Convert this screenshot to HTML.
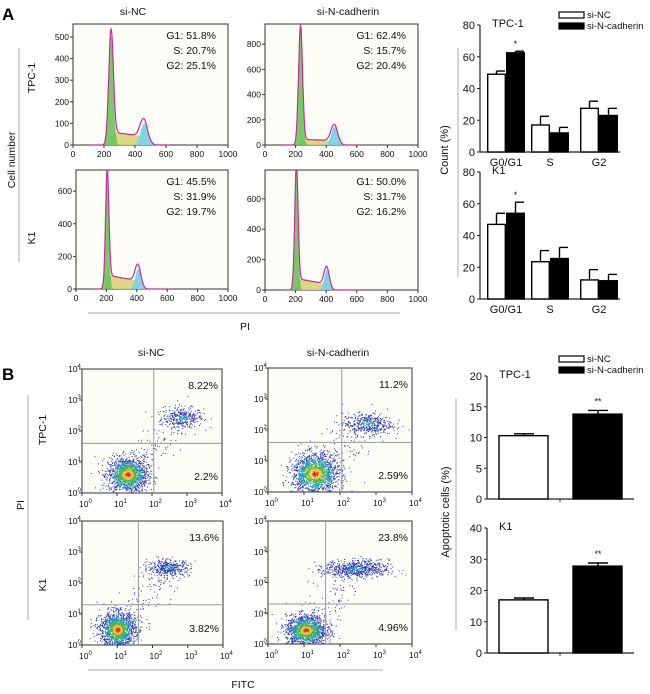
<!DOCTYPE html>
<html><head><meta charset="utf-8"><style>
body{margin:0;background:#fff}
svg{display:block;font-family:"Liberation Sans",sans-serif}
</style></head><body>
<svg id="fig" width="650" height="694" viewBox="0 0 650 694" xmlns="http://www.w3.org/2000/svg">
<text x="2" y="20" font-size="17" font-weight="bold">A</text>
<text x="2" y="380" font-size="17" font-weight="bold">B</text>
<g id="root"></g>
</svg>
<script>
// ---------- DATA ----------
// Histograms: [G1 mean, G1 height, G1 sd, G2 mean, G2 height, G2 sd, S start level, S end level]
const histParams = [
  [245, 505, 15, 460, 100, 24, 60, 40],
  [232, 930, 13, 455, 145, 22, 45, 35],
  [205, 700, 11, 410, 125, 19, 85, 50],
  [205, 790, 11, 405, 135, 17, 75, 40]
];
const histYMax = [560, 960, 730, 790];
const histYTicks = [[0,100,200,300,400,500],[0,200,400,600,800],[0,200,400,600],[0,200,400,600]];
const histXTicks = [0,200,400,600,800,1000];
const histLabels = [["G1: 51.8%","S: 20.7%","G2: 25.1%"],["G1: 62.4%","S: 15.7%","G2: 20.4%"],["G1: 45.5%","S: 31.9%","G2: 19.7%"],["G1: 50.0%","S: 31.7%","G2: 16.2%"]];

const cycleCategories = ["G0/G1","S","G2"];
const tpcNC = [49, 17, 27.5];
const tpcNCerr = [2, 5.5, 4.5];
const tpcKD = [62.5, 12, 23];
const tpcKDerr = [1, 3.5, 4.5];
const k1NC = [47, 23.5, 12];
const k1NCerr = [7, 7, 6.5];
const k1KD = [54, 25.5, 11.5];
const k1KDerr = [7, 7, 4];
const cycleTicks = [0,20,40,60,80];

const apoNC = [10.3, 17];
const apoNCerr = [0.3, 0.6];
const apoKD = [13.8, 27.8];
const apoKDerr = [0.6, 1];
const apoMax = [20, 40];
const apoTicks = [[0,5,10,15,20],[0,10,20,30,40]];

// scatter: [live fitc, live pi, sdx, sdy, nLive, late fitc, late pi, sdx, sdy, nLate]
const scatterParams = [
  [1.3, 0.6, 0.28, 0.28, 1500, 2.85, 2.45, 0.3, 0.16, 320],
  [1.3, 0.6, 0.32, 0.32, 1600, 2.75, 2.2, 0.35, 0.18, 420],
  [1.0, 0.5, 0.25, 0.28, 1500, 2.45, 2.5, 0.3, 0.13, 380],
  [1.05, 0.45, 0.28, 0.25, 1500, 2.45, 2.45, 0.45, 0.14, 650]
];
const scatterGates = [[2.05, 1.6],[2.05, 1.6],[1.6, 1.3],[1.6, 1.3]];
const scatterLabels = [["8.22%","2.2%"],["11.2%","2.59%"],["13.6%","3.82%"],["23.8%","4.96%"]];

// ---------- DRAW ----------
const NS = "http://www.w3.org/2000/svg";
const root = document.getElementById('root');
function mk(tag, attrs, parent, text){
  const e = document.createElementNS(NS, tag);
  for (const k in attrs) e.setAttribute(k, attrs[k]);
  if (text !== undefined) e.textContent = text;
  (parent || root).appendChild(e);
  return e;
}
function txt(x,y,s,size,anchor,parent,rot){
  const t = mk('text',{x:x,y:y,'font-size':size,'text-anchor':anchor||'middle',fill:'#111'},parent,s);
  if (rot) t.setAttribute('transform','rotate(-90 '+x+' '+y+')');
  return t;
}

let t;
t = txt(133,15,"si-NC",10.5);  
t = txt(348,15,"si-N-cadherin",10.5);  
t = txt(35,78,"TPC-1",10.5,'middle',null,true);  
t = txt(35,238,"K1",10.5,'middle',null,true);  
t = txt(15,160,"Cell number",10.5,'middle',null,true);  
mk('line',{x1:19,y1:48,x2:19,y2:262,stroke:'#aaa','stroke-width':1});
mk('line',{x1:88,y1:313,x2:400,y2:313,stroke:'#aaa','stroke-width':1});
t = txt(245,330,"PI",10.5);  

const histBoxes = [[73,228,24,145],[265,418,24,145],[76,228,170,289],[265,418,170,290]];
function gauss(x,m,s){return Math.exp(-0.5*((x-m)/s)**2);}
histParams.forEach((p,i)=>{
  const [x0,x1,y0,y1] = histBoxes[i];
  const g = mk('g',{});
  
  
  mk('rect',{x:x0,y:y0,width:x1-x0,height:y1-y0,fill:'#fdfcf7',stroke:'#333','stroke-width':1},g);
  const X = v=>x0+v/1000*(x1-x0);
  const Y = v=>y1-v/histYMax[i]*(y1-y0);
  const [m1,h1,s1,m2,h2,s2,sa,sb] = p;
  const sFun = x=>{ if(x<m1-s1||x>m2+s2) return 0; const f=(x-m1)/(m2-m1); return (sa+(sb-sa)*f)*Math.min(1,(x-m1+s1)/(2*s1))*Math.min(1,(m2+s2-x)/(2*s2)); };
  const xs=[]; for(let x=120;x<=620;x+=2) xs.push(x);
  const area=(f)=>{ let d='M'+X(xs[0])+','+Y(0); xs.forEach(x=>{d+=' L'+X(x).toFixed(1)+','+Y(Math.min(histYMax[i],f(x))).toFixed(1);}); d+=' L'+X(xs[xs.length-1])+','+Y(0)+'Z'; return d; };
  mk('path',{d:area(x=>sFun(x)),fill:'#d8d27a',opacity:0.9},g);
  mk('path',{d:area(x=>h1*gauss(x,m1,s1)),fill:'#6cc25a',opacity:0.9},g);
  mk('path',{d:area(x=>h2*gauss(x,m2,s2)),fill:'#7fd0e0',opacity:0.95},g);
  let d=''; xs.forEach((x,k)=>{const v=Math.min(histYMax[i],h1*gauss(x,m1,s1)+h2*gauss(x,m2,s2)+sFun(x)); d+=(k?' L':'M')+X(x).toFixed(1)+','+Y(v).toFixed(1);});
  mk('path',{d:d,fill:'none',stroke:'#c0309a','stroke-width':1.2},g);
  histYTicks[i].forEach(v=>{ mk('line',{x1:x0-3,x2:x0,y1:Y(v),y2:Y(v),stroke:'#333'},g); txt(x0-4,Y(v)+3,String(v),8.5,'end',g); });
  histXTicks.forEach(v=>{ mk('line',{x1:X(v),x2:X(v),y1:y1,y2:y1+3,stroke:'#333'},g); txt(X(v),y1+12,String(v),8.5,'middle',g); });
  histLabels[i].forEach((s,k)=>{ txt(x1-12,y0+15+k*15,s,10.5,'end',g); });
});

// ---------- cycle bar charts ----------
function barChart(name, ax, y0px, y1px, xEnd, maxv, ticks, cats, centers, nc, ncErr, kd, kdErr, title, bw, stars){
  const g = mk('g',{});
  
  
  const Y = v=>y1px - v/maxv*(y1px-y0px);
  mk('line',{x1:ax,y1:y0px,x2:ax,y2:y1px,stroke:'#222','stroke-width':1.2},g);
  mk('line',{x1:ax,y1:y1px,x2:xEnd,y2:y1px,stroke:'#222','stroke-width':1.2},g);
  ticks.forEach(v=>{ mk('line',{x1:ax-3,x2:ax,y1:Y(v),y2:Y(v),stroke:'#222'},g); txt(ax-5,Y(v)+4,String(v),11,'end',g); });
  centers.forEach((c,k)=>{
    [[nc,ncErr,'#fff',c-bw],[kd,kdErr,'#000',c]].forEach(([vals,errs,fill,bx])=>{
      const top=Y(vals[k]);
      const eb=Y(vals[k]+errs[k]);
      mk('line',{x1:bx+bw/2,x2:bx+bw/2,y1:top,y2:eb,stroke:'#000','stroke-width':1.4},g);
      mk('line',{x1:bx+bw/2,x2:bx+bw-1,y1:eb,y2:eb,stroke:'#000','stroke-width':1.4},g);
      const r=mk('rect',{x:bx+0.7,y:top,width:bw-1.4,height:y1px-top,fill:fill,stroke:'#000','stroke-width':1.4},g);
      
      
    });
    if (cats) txt(c, y1px+14, cats[k], 11,'middle',g);
    if (stars && stars[k]) txt(c+bw/2, Y(kd[k]+kdErr[k])-4, stars[k], 9,'middle',g);
  });
  txt(ax+12, y0px+2, title, 11, 'start', g);
  return g;
}
barChart('bar-chart-cycle-tpc1',480,25,152,620,80,cycleTicks,cycleCategories,[506,550,599],tpcNC,tpcNCerr,tpcKD,tpcKDerr,'TPC-1',19,['*','','']);
barChart('bar-chart-cycle-k1',480,172,299,620,80,cycleTicks,cycleCategories,[506,550,599],k1NC,k1NCerr,k1KD,k1KDerr,'K1',19,['*','','']);
t = txt(448,150,"Count (%)",11,'middle',null,true);  
mk('line',{x1:458,y1:48,x2:458,y2:277,stroke:'#aaa'});

// apoptosis axes (no bars via helper)
barChart('bar-chart-apoptosis-tpc1',487,376,499,634,apoMax[0],apoTicks[0],null,[],[],[],[],[],'TPC-1',0,null);
barChart('bar-chart-apoptosis-k1',487,528,653,634,apoMax[1],apoTicks[1],null,[],[],[],[],[],'K1',0,null);
[[376,499,0],[528,653,1]].forEach(([y0p,y1p,k])=>{
  const Y=v=>y1p-v/apoMax[k]*(y1p-y0p);
  [[apoNC,apoNCerr,'#fff',499],[apoKD,apoKDerr,'#000',573]].forEach(([vals,errs,fill,bx])=>{
    const top=Y(vals[k]), eb=Y(vals[k]+errs[k]);
    mk('line',{x1:bx+25,x2:bx+25,y1:top,y2:eb,stroke:'#000','stroke-width':1.4});
    mk('line',{x1:bx+15,x2:bx+35,y1:eb,y2:eb,stroke:'#000','stroke-width':1.4});
    const r=mk('rect',{x:bx,y:top,width:49,height:y1p-top,fill:fill,stroke:'#000','stroke-width':1.4});
    
    
  });
  txt(598,Y(apoKD[k]+apoKDerr[k])-6,'**',9);
  mk('line',{x1:560,x2:560,y1:y1p,y2:y1p+3,stroke:'#222'});
});
t = txt(449,512,"Apoptotic cells (%)",11,'middle',null,true);  
mk('line',{x1:456,y1:398,x2:456,y2:630,stroke:'#aaa'});

// legends
[[12],[356]].forEach(([ly],i)=>{
  const g=mk('g',{});
  
  
  mk('rect',{x:559,y:ly,width:25,height:6,fill:'#fff',stroke:'#000','stroke-width':1.2},g);
  mk('rect',{x:559,y:ly+11,width:25,height:6,fill:'#000',stroke:'#000','stroke-width':1.2},g);
  txt(587,ly+6,'si-NC',9.5,'start',g);
  txt(587,ly+17,'si-N-cadherin',9.5,'start',g);
});

// ---------- scatter ----------
t = txt(151,356,"si-NC",10.5);  
t = txt(338,356,"si-N-cadherin",10.5);  
t = txt(46,430,"TPC-1",10.5,'middle',null,true);  
t = txt(46,585,"K1",10.5,'middle',null,true);  
t = txt(24,505,"PI",10.5,'middle',null,true);  
mk('line',{x1:28,y1:395,x2:28,y2:620,stroke:'#aaa'});
mk('line',{x1:88,y1:670,x2:383,y2:670,stroke:'#aaa'});
t = txt(243,688,"FITC",10.5);  

const scBoxes=[[82,222,369,493],[268,412,368,492],[82,223,521,645],[268,412,521,644]];
let seed=12345; function rnd(){seed=(seed*1103515245+12345)%2147483648; return seed/2147483648;}
function nrm(){let u=rnd()||1e-6,v=rnd(); return Math.sqrt(-2*Math.log(u))*Math.cos(2*Math.PI*v);}
function dens(r){ if(r<0.25) return '#e03020'; if(r<0.55) return '#e8c030'; if(r<1.0) return '#50b050'; if(r<1.5) return '#2090b8'; return '#2838b0'; }
scatterParams.forEach((p,i)=>{
  const [x0,x1,y0,y1]=scBoxes[i];
  const g=mk('g',{});
  
  
  mk('rect',{x:x0,y:y0,width:x1-x0,height:y1-y0,fill:'#fdfcf7',stroke:'#333'},g);
  const X=v=>x0+v/4*(x1-x0), Y=v=>y1-v/4*(y1-y0);
  const [cx,cy,sx,sy,n,lx,ly,lsx,lsy,ln]=p;
  const pts=[];
  for(let k=0;k<ln;k++){const a=nrm(),b=nrm(); pts.push([lx+a*lsx,ly+b*lsy,Math.hypot(a,b)+1.0]);}
  for(let k=0;k<120;k++){const f=rnd(); pts.push([cx+(lx-cx)*f+nrm()*0.3,cy+(ly-cy)*f+nrm()*0.3,3]);}
  for(let k=0;k<n;k++){const a=nrm(),b=nrm(); pts.push([cx+a*sx,cy+b*sy,Math.hypot(a,b)]);}
  pts.sort((a,b)=>b[2]-a[2]);
  pts.forEach(q=>{ if(q[0]<0.02||q[0]>3.98||q[1]<0.02||q[1]>3.98) return; mk('rect',{x:X(q[0]).toFixed(1),y:Y(q[1]).toFixed(1),width:1,height:1,fill:dens(q[2])},g); });
  const [gx,gy]=scatterGates[i];
  mk('line',{x1:X(gx),x2:X(gx),y1:y0,y2:y1,stroke:'#999'},g);
  mk('line',{x1:x0,x2:x1,y1:Y(gy),y2:Y(gy),stroke:'#999'},g);
  for(let e=0;e<=4;e++){
    const tx=mk('text',{x:X(e)-3,y:y1+14,'font-size':8.5,fill:'#111'},g,'10');
    mk('tspan',{dy:-4,'font-size':6},tx,String(e));
    const ty=mk('text',{x:x0-14,y:Y(e)+3,'font-size':8.5,fill:'#111'},g,'10');
    mk('tspan',{dy:-4,'font-size':6},ty,String(e));
    mk('line',{x1:X(e),x2:X(e),y1:y1,y2:y1+3,stroke:'#333'},g);
    mk('line',{x1:x0-3,x2:x0,y1:Y(e),y2:Y(e),stroke:'#333'},g);
  }
  txt(x1-4,y0+20,scatterLabels[i][0],10.5,'end',g);
  txt(x1-4,y1-13,scatterLabels[i][1],10.5,'end',g);
});
</script>
</body></html>
